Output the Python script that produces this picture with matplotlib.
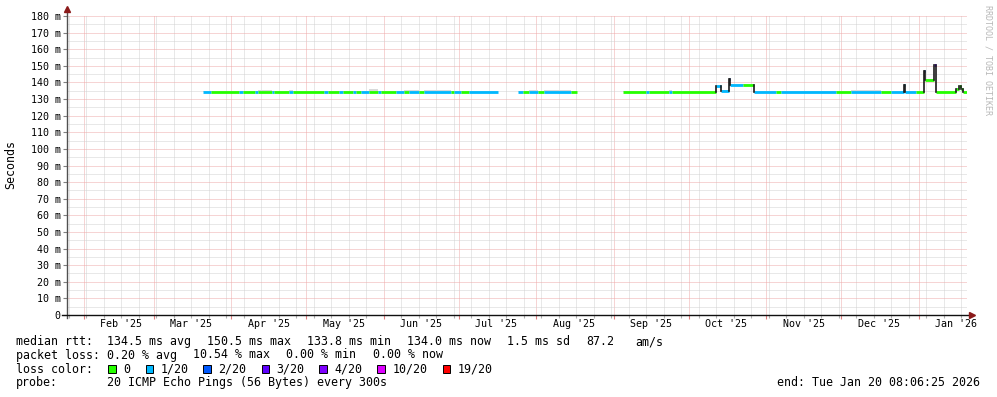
import numpy as np
import pandas as pd
import matplotlib
matplotlib.use("Agg")
import matplotlib.pyplot as plt
import matplotlib.dates as mdates
from matplotlib.patches import Rectangle
from matplotlib.ticker import MultipleLocator, NullFormatter, FuncFormatter

W, H = 997, 397
MONO = "DejaVu Sans Mono"

t_end = pd.Timestamp("2026-01-20 08:06:25")
t_start = t_end - pd.Timedelta(days=360)

# median rtt as steps: value holds until next time, nan = no data
step_time = [
    "2025-03-20 14:00", "2025-03-24 00:00", "2025-04-04 00:00", "2025-04-05 16:00",
    "2025-04-10 12:00", "2025-04-11 16:00", "2025-04-17 08:00", "2025-04-18 00:00",
    "2025-04-24 00:00", "2025-04-25 16:00", "2025-05-08 00:00", "2025-05-09 16:00",
    "2025-05-14 00:00", "2025-05-15 16:00", "2025-05-19 16:00", "2025-05-20 20:00",
    "2025-05-22 20:00", "2025-05-26 00:00", "2025-05-29 16:00", "2025-05-30 20:00",
    "2025-06-05 20:00", "2025-06-09 00:00", "2025-06-11 00:00", "2025-06-15 00:00",
    "2025-06-17 00:00", "2025-06-27 20:00", "2025-06-29 00:00", "2025-07-01 20:00",
    "2025-07-05 00:00", "2025-07-16 16:00",
    "2025-07-24 16:00", "2025-07-26 16:00", "2025-07-29 00:00", "2025-08-01 16:00",
    "2025-08-04 00:00", "2025-08-14 20:00", "2025-08-17 08:00",
    "2025-09-04 16:00", "2025-09-13 20:00", "2025-09-15 00:00", "2025-09-23 00:00",
    "2025-09-24 08:00", "2025-10-12 00:00", "2025-10-14 00:00", "2025-10-17 00:00",
    "2025-10-17 12:00", "2025-10-22 16:00", "2025-10-27 08:00", "2025-11-04 20:00",
    "2025-11-06 20:00", "2025-11-29 00:00", "2025-12-05 00:00", "2025-12-17 00:00",
    "2025-12-21 00:00", "2025-12-26 00:00", "2025-12-26 12:00", "2025-12-31 00:00",
    "2026-01-03 00:00", "2026-01-03 12:00", "2026-01-07 08:00", "2026-01-07 20:00",
    "2026-01-16 00:00", "2026-01-17 00:00", "2026-01-18 00:00", "2026-01-18 18:00",
    "2026-01-20 08:00",
]
step_rtt = [
    134.0, 134.0, 134.0, 134.0, 134.0, 134.0, 134.0, 134.0, 134.4, 134.0,
    134.0, 134.0, 134.0, 134.0, 134.0, 134.0, 134.0, 134.0, 134.0, 134.0,
    134.0, 134.0, 134.0, 134.0, 134.0, 134.0, 134.0, 134.0, 134.0, np.nan,
    134.0, 134.0, 134.0, 134.0, 134.0, 134.0, np.nan,
    134.0, 134.0, 134.0, 134.0, 134.0, 137.6, 134.8, 142.0, 138.4, 138.4,
    134.0, 134.0, 134.0, 134.0, 134.4, 134.0, 134.0, 138.6, 134.0, 134.0,
    147.0, 141.6, 150.6, 134.0, 136.0, 137.6, 136.0, 134.0, np.nan,
]
step_loss = [
    1, 0, 1, 0, 1, 0, 1, 0, 1, 0,
    1, 0, 1, 0, 1, 0, 1, 0, 1, 0,
    1, 0, 1, 0, 1, 0, 1, 0, 1, 0,
    1, 0, 1, 0, 1, 0, 0,
    0, 1, 0, 1, 0, 1, 1, 2, 1, 0,
    1, 0, 1, 0, 1, 0, 1, 1, 1, 0,
    2, 0, 3, 0, 0, 0, 0, 0, 0,
]
# top of the grey smoke (max rtt)
step_smoke = [
    134.6, 134.6, 134.8, 134.6, 134.6, 135.4, 134.6, 134.6, 135.2, 134.6,
    134.6, 134.6, 134.6, 134.6, 134.6, 134.6, 134.8, 136.0, 134.6, 134.6,
    135.0, 135.6, 135.6, 134.8, 135.4, 135.0, 134.8, 134.6, 134.6, np.nan,
    134.6, 135.0, 135.4, 134.8, 135.4, 134.6, np.nan,
    134.6, 135.0, 135.0, 135.2, 134.8, 138.0, 135.6, 142.4, 138.8, 138.8,
    134.8, 134.8, 135.0, 134.8, 135.4, 135.0, 135.0, 139.0, 134.8, 134.6,
    147.4, 142.0, 151.0, 134.6, 136.4, 138.0, 136.4, 134.6, np.nan,
]

loss_levels = [0, 1, 2, 3, 4, 10, 19]
loss_colors = ["#26ff00", "#00b8ff", "#0059ff", "#5e00ff", "#7e00ff", "#dd00ff", "#ff0000"]

rtt_stats = [134.5, 150.5, 133.8, 134.0]   # avg max min now
rtt_sd = 1.5
rtt_ams = 87.2
loss_stats = [0.20, 10.54, 0.00, 0.00]


def loss_color(n):
    c = loss_colors[0]
    for lv, col in zip(loss_levels, loss_colors):
        if n >= lv:
            c = col
    return c


def fx(x):
    return x / W


def fy(y):
    return 1 - y / H


fig = plt.figure(figsize=(W / 100, H / 100), dpi=100)
fig.patch.set_facecolor("white")
ax = fig.add_axes([fx(67), fy(315), 900 / W, 299 / H])
ax.set_xlim(t_start, t_end)
ax.set_ylim(0, 180)
for s in ax.spines.values():
    s.set_visible(False)

# grid (dotted)
ax.yaxis.set_major_locator(MultipleLocator(10))
ax.yaxis.set_minor_locator(MultipleLocator(5))
ax.xaxis.set_major_locator(mdates.MonthLocator())
ax.xaxis.set_minor_locator(mdates.WeekdayLocator(byweekday=mdates.SU))
ax.xaxis.set_major_formatter(NullFormatter())
ax.grid(which="minor", color="#d2d2d2", linestyle=(0, (1, 1)), linewidth=0.72)
ax.grid(which="major", color="#eeaaaa", linestyle=(0, (1, 1)), linewidth=0.72)
ax.set_axisbelow(True)

ax.yaxis.set_major_formatter(FuncFormatter(lambda v, p: "0" if v == 0 else "%d m" % v))
ax.tick_params(axis="y", which="major", length=3, width=0.8, color="#808080",
               pad=1.5, labelsize=7.2)
ax.tick_params(axis="y", which="minor", length=0)
ax.tick_params(axis="x", which="major", length=3, width=0.8, color="#e08080")
ax.tick_params(axis="x", which="minor", length=2, width=0.8, color="#b0b0b0")
for lab in ax.get_yticklabels():
    lab.set_family(MONO)

# month labels centred mid month
for m in pd.date_range("2025-02-01", "2026-01-01", freq="MS"):
    lbl = m.strftime("%b '%y")
    ax.text(m + pd.Timedelta(days=15), -9.3 / 299, lbl, transform=ax.get_xaxis_transform(),
            ha="center", va="center", fontsize=7.2, family=MONO)

# axes with arrows
ax.plot([0, 0], [-3 / 299, 1 + 6 / 299], color="#505050", lw=1, transform=ax.transAxes,
        clip_on=False, zorder=6)
ax.plot([-5 / 900, 1 + 2 / 900], [0, 0], color="#101010", lw=1, transform=ax.transAxes,
        clip_on=False, zorder=6)
ax.plot([0], [1 + 7 / 299], marker="^", ms=4.5, color="#8b1a1a", transform=ax.transAxes,
        clip_on=False, zorder=7)
ax.plot([1 + 5 / 900], [0], marker=">", ms=4.5, color="#8b1a1a", transform=ax.transAxes,
        clip_on=False, zorder=7)

# data
t = pd.to_datetime(step_time)
rtt = np.array(step_rtt, dtype=float)
smoke = np.array(step_smoke, dtype=float)
for i in range(len(t) - 1):
    if np.isnan(rtt[i]):
        continue
    x0, x1 = t[i], t[i + 1]
    ax.fill_between([x0, x1], [rtt[i], rtt[i]], [smoke[i], smoke[i]], color="#d9d9d9",
                    lw=0, zorder=3)
    ax.plot([x0, x1], [rtt[i], rtt[i]], color=loss_color(step_loss[i]), lw=2.0,
            solid_capstyle="butt", zorder=4)
    if i > 0 and not np.isnan(rtt[i - 1]) and rtt[i - 1] != rtt[i]:
        ax.plot([x0, x0], [rtt[i - 1], rtt[i]], color="#1a1a1a", lw=1.2, zorder=5)

# labels
fig.text(fx(11), fy(164), "Seconds", rotation=90, ha="center", va="center",
         fontsize=8.4, family=MONO)
fig.text(fx(988), fy(5), "RRDTOOL / TOBI OETIKER", rotation=270, ha="center", va="top",
         fontsize=6, family=MONO, color="#b8b8b8")

fs = 8.4
line1 = [(16, "median rtt:"),
         (107.3, "%.1f ms avg" % rtt_stats[0]),
         (207.3, "%.1f ms max" % rtt_stats[1]),
         (307.3, "%.1f ms min" % rtt_stats[2]),
         (407.3, "%.1f ms now" % rtt_stats[3]),
         (507.3, "%.1f ms sd" % rtt_sd),
         (586, "%.1f" % rtt_ams),
         (635, "am/s")]
line2 = [(16, "packet loss:"),
         (107.3, "%.2f %% avg" % loss_stats[0]),
         (193.3, "%.2f %% max" % loss_stats[1]),
         (286, "%.2f %% min" % loss_stats[2]),
         (372.7, "%.2f %% now" % loss_stats[3])]
for x, s in line1:
    fig.text(fx(x), fy(341.7), s, ha="left", va="center", fontsize=fs, family=MONO)
for x, s in line2:
    fig.text(fx(x), fy(355), s, ha="left", va="center", fontsize=fs, family=MONO)

fig.text(fx(16), fy(369.3), "loss color:", ha="left", va="center", fontsize=fs, family=MONO)
box_x = [108.3, 145.7, 203.3, 261.7, 319.3, 377.3, 442.7]
for bx, lv, col in zip(box_x, loss_levels, loss_colors):
    fig.patches.append(Rectangle((fx(bx), fy(373.3)), 7.5 / W, 8 / H, transform=fig.transFigure,
                                 facecolor=col, edgecolor="black", lw=0.7))
    lbl = "0" if lv == 0 else "%d/20" % lv
    fig.text(fx(bx + 15), fy(369.3), lbl, ha="left", va="center", fontsize=fs, family=MONO)

fig.text(fx(16), fy(382.7), "probe:", ha="left", va="center", fontsize=fs, family=MONO)
fig.text(fx(107.3), fy(382.7), "20 ICMP Echo Pings (56 Bytes) every 300s", ha="left",
         va="center", fontsize=fs, family=MONO)
fig.text(fx(980), fy(382.7), "end: Tue Jan 20 08:06:25 2026", ha="right", va="center",
         fontsize=fs, family=MONO)

fig.savefig("out.png", dpi=100)
